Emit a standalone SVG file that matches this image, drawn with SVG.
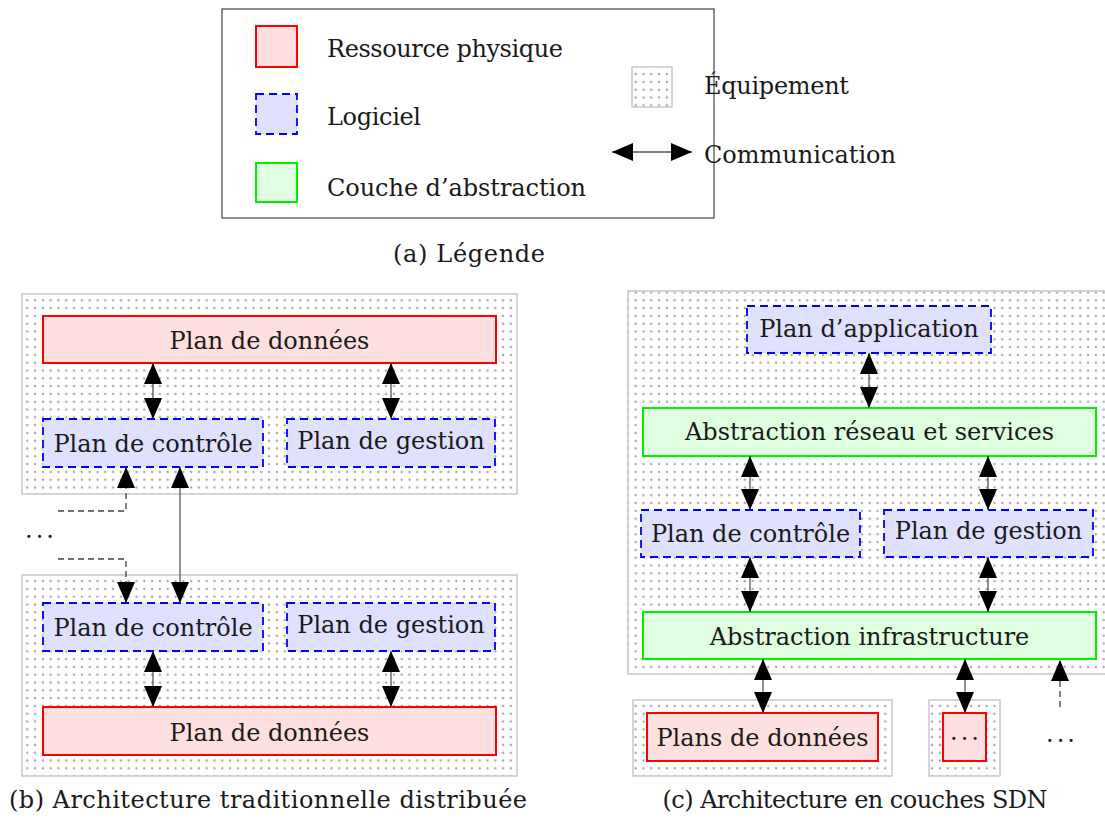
<svg xmlns="http://www.w3.org/2000/svg" width="1105" height="825" viewBox="0 0 1105 825">
<style>
text{font-family:"DejaVu Serif",serif;font-size:24px;fill:#1a1a1a}
.m{text-anchor:middle}
.phys{fill:#ffe0e0;stroke:#ff0000;stroke-width:2}
.soft{fill:#e0e0ff;stroke:#0000ff;stroke-width:1.8;stroke-dasharray:8 5}
.abs{fill:#e0ffe0;stroke:#00ee00;stroke-width:2}
.eq{fill:url(#dots);stroke:#c8c8c8;stroke-width:1.5}
.arr{stroke:#555;stroke-width:1.3;fill:none;marker-start:url(#ah);marker-end:url(#ah)}
.one{stroke:#444;stroke-width:1.3;fill:none;stroke-dasharray:6 4;marker-end:url(#ah)}
.dd{letter-spacing:3px}
</style>
<defs>
<pattern id="dots" patternUnits="userSpaceOnUse" x="0" y="0" width="7.8" height="7.8">
<rect width="7.8" height="7.8" fill="#fff"/>
<circle cx="3.9" cy="3.9" r="1.25" fill="#aaaaaa"/>
</pattern>
<marker id="ah" markerUnits="userSpaceOnUse" viewBox="0 0 22 18" markerWidth="22" markerHeight="18" refX="21" refY="9" orient="auto-start-reverse">
<path d="M0,0 L21,9 L0,18 z" fill="#000"/>
</marker>
</defs>

<g id="legend">
<rect x="222" y="9" width="492" height="209" fill="#fff" stroke="#555" stroke-width="1.3"/>
<rect class="phys" x="256" y="26" width="41" height="41"/>
<text x="327" y="57" textLength="236" lengthAdjust="spacing">Ressource physique</text>
<rect class="soft" x="256" y="94" width="41" height="40"/>
<text x="327" y="125" textLength="94" lengthAdjust="spacing">Logiciel</text>
<rect class="abs" x="256" y="163" width="41" height="39"/>
<text x="327" y="196" textLength="259" lengthAdjust="spacing">Couche d’abstraction</text>
<rect class="eq" x="632" y="67" width="40" height="40"/>
<text x="704" y="94" textLength="145" lengthAdjust="spacing">Équipement</text>
<line class="arr" x1="612" y1="152" x2="692" y2="152"/>
<text x="704" y="163" textLength="192" lengthAdjust="spacing">Communication</text>
</g>
<text class="m" x="469" y="262" textLength="152" lengthAdjust="spacing">(a) Légende</text>

<g id="b-top-equipment">
<rect class="eq" x="22" y="294" width="495" height="200"/>
</g>
<g id="b-top-data">
<rect class="phys" x="43" y="316" width="453" height="47"/>
<text class="m" x="269.5" y="349">Plan de données</text>
</g>
<g id="b-top-control">
<rect class="soft" x="43" y="419" width="220" height="48"/>
<text class="m" x="153" y="452">Plan de contrôle</text>
</g>
<g id="b-top-mgmt">
<rect class="soft" x="287" y="419" width="208" height="48"/>
<text class="m" x="391" y="449">Plan de gestion</text>
</g>
<g id="b-bot-equipment">
<rect class="eq" x="22" y="575" width="495" height="201"/>
</g>
<g id="b-bot-control">
<rect class="soft" x="43" y="603" width="220" height="48"/>
<text class="m" x="153" y="636">Plan de contrôle</text>
</g>
<g id="b-bot-mgmt">
<rect class="soft" x="287" y="603" width="208" height="48"/>
<text class="m" x="391" y="633">Plan de gestion</text>
</g>
<g id="b-bot-data">
<rect class="phys" x="43" y="707" width="453" height="48"/>
<text class="m" x="269.5" y="741">Plan de données</text>
</g>
<text x="25" y="538" class="dd">...</text>
<text class="m" x="268" y="808" textLength="518" lengthAdjust="spacing">(b) Architecture traditionnelle distribuée</text>

<g id="c-equipment">
<rect class="eq" x="628" y="291" width="480" height="383"/>
</g>
<g id="c-app">
<rect class="soft" x="747" y="306" width="244" height="47"/>
<text class="m" x="869" y="337">Plan d’application</text>
</g>
<g id="c-abs-net">
<rect class="abs" x="643" y="408" width="453" height="48"/>
<text class="m" x="869.5" y="440">Abstraction réseau et services</text>
</g>
<g id="c-control">
<rect class="soft" x="641" y="510" width="219" height="47"/>
<text class="m" x="750.5" y="542">Plan de contrôle</text>
</g>
<g id="c-mgmt">
<rect class="soft" x="884" y="510" width="209" height="47"/>
<text class="m" x="988.5" y="539">Plan de gestion</text>
</g>
<g id="c-abs-infra">
<rect class="abs" x="643" y="612" width="453" height="47"/>
<text class="m" x="869.5" y="645">Abstraction infrastructure</text>
</g>
<g id="c-data-eq">
<rect class="eq" x="633" y="700" width="259" height="76"/>
<rect class="phys" x="647" y="713" width="231" height="48"/>
<text class="m" x="762.5" y="746">Plans de données</text>
</g>
<g id="c-other-eq">
<rect class="eq" x="929" y="700" width="71" height="76"/>
<rect class="phys" x="943" y="713" width="43" height="48"/>
<text class="m dd" x="966" y="740">...</text>
</g>
<text class="m dd" x="1062" y="742">...</text>
<text class="m" x="855" y="808" textLength="385" lengthAdjust="spacing">(c) Architecture en couches SDN</text>

<g id="connectors">
<line class="arr" x1="153" y1="363" x2="153" y2="419"/>
<line class="arr" x1="391" y1="363" x2="391" y2="419"/>
<path class="one" d="M58,511 H126 V467"/>
<line class="arr" x1="180" y1="467" x2="180" y2="603"/>
<path class="one" d="M58,559 H126 V603"/>
<line class="arr" x1="153" y1="651" x2="153" y2="707"/>
<line class="arr" x1="391" y1="651" x2="391" y2="707"/>
<line class="arr" x1="869" y1="353" x2="869" y2="408"/>
<line class="arr" x1="750" y1="456" x2="750" y2="510"/>
<line class="arr" x1="988" y1="456" x2="988" y2="510"/>
<line class="arr" x1="750" y1="557" x2="750" y2="612"/>
<line class="arr" x1="988" y1="557" x2="988" y2="612"/>
<line class="arr" x1="763" y1="659" x2="763" y2="713"/>
<line class="arr" x1="965" y1="659" x2="965" y2="713"/>
<path class="one" d="M1060,707 V660"/>
</g>
</svg>
